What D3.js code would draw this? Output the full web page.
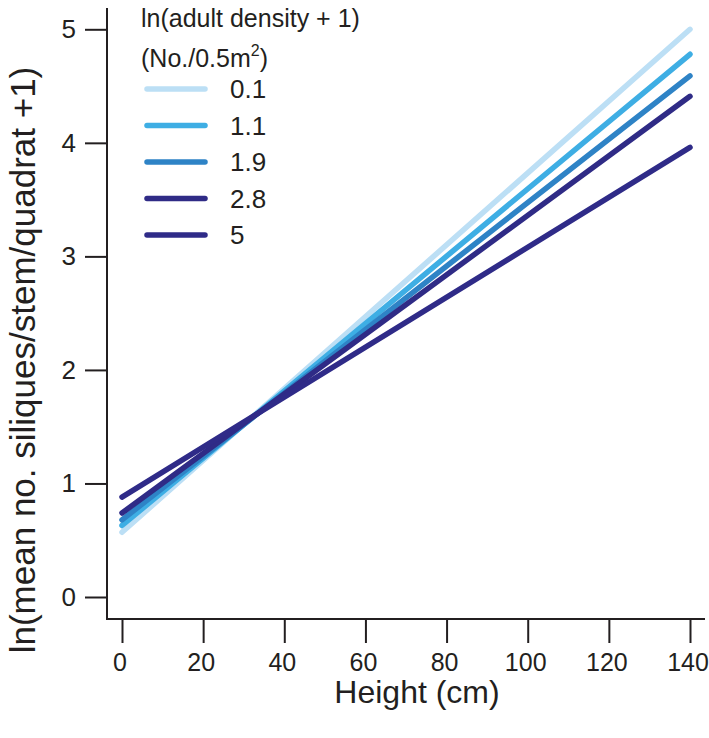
<!DOCTYPE html>
<html>
<head>
<meta charset="utf-8">
<script src="https://cdn.jsdelivr.net/npm/d3@7"></script>
<style>
  html, body { margin: 0; padding: 0; background: #ffffff; }
  svg { display: block; font-family: "Liberation Sans", Arial, Helvetica, sans-serif; }
</style>
</head>
<body>
<script>
// ---- data ----
const densities = ["0.1", "1.1", "1.9", "2.8", "5"];
const heights = [0, 140];
const valueAtHeight0 = [0.57, 0.63, 0.68, 0.74, 0.88];
const valueAtHeight140 = [5.00, 4.78, 4.59, 4.41, 3.96];
const colors = ["#bcdff5", "#3eaee4", "#2e83c6", "#2f2b86", "#2f2b88"];
const xTicks = [0, 20, 40, 60, 80, 100, 120, 140];
const yTicks = [0, 1, 2, 3, 4, 5];
const legendTitle1 = "ln(adult density + 1)";
const xTitle = "Height (cm)";
const yTitle = "ln(mean no. siliques/stem/quadrat +1)";

// ---- layout ----
const W = 709, H = 738;
const axisX = 107, axisY = 619;

const svg = d3.select("body").append("svg").attr("width", W).attr("height", H);

const x = d3.scaleLinear().domain([0, 140]).range([122, 690]);
const y = d3.scaleLinear().domain([0, 5]).range([597, 29.3]);

const ink = "#231f20";

// axis lines
svg.append("line").attr("x1", axisX).attr("x2", axisX).attr("y1", 8).attr("y2", axisY + 1)
  .attr("stroke", ink).attr("stroke-width", 2);
svg.append("line").attr("x1", axisX - 1).attr("x2", 705).attr("y1", axisY).attr("y2", axisY)
  .attr("stroke", ink).attr("stroke-width", 2);

// x axis
const xAxis = svg.append("g").attr("transform", `translate(0,${axisY})`)
  .call(d3.axisBottom(x).tickValues(xTicks).tickFormat(d3.format("d"))
    .tickSize(24).tickSizeOuter(0).tickPadding(10));
xAxis.select(".domain").remove();
xAxis.selectAll(".tick line").attr("stroke", ink).attr("stroke-width", 2);
xAxis.selectAll(".tick text").attr("font-size", 25).attr("fill", ink).attr("dx", -2.5)
  .attr("font-family", "Liberation Sans, Arial, sans-serif");

// y axis
const yAxis = svg.append("g").attr("transform", `translate(${axisX},0)`)
  .call(d3.axisLeft(y).tickValues(yTicks).tickFormat(d3.format("d"))
    .tickSize(22).tickSizeOuter(0).tickPadding(9));
yAxis.select(".domain").remove();
yAxis.selectAll(".tick line").attr("stroke", ink).attr("stroke-width", 2);
yAxis.selectAll(".tick text").attr("font-size", 26).attr("fill", ink)
  .attr("font-family", "Liberation Sans, Arial, sans-serif");

// axis titles
svg.append("text").attr("x", 417).attr("y", 703).attr("text-anchor", "middle")
  .attr("font-size", 32).attr("fill", ink).text(xTitle);
svg.append("text").attr("transform", `translate(35,360) rotate(-90)`).attr("text-anchor", "middle")
  .attr("font-size", 35).attr("fill", ink).text(yTitle);

// lines
const series = densities.map((d, i) => ({
  name: d, color: colors[i],
  pts: [{ h: heights[0], v: valueAtHeight0[i] }, { h: heights[1], v: valueAtHeight140[i] }]
}));
const lineGen = d3.line().x(p => x(p.h)).y(p => y(p.v));
svg.append("g").selectAll("path").data(series).join("path")
  .attr("d", s => lineGen(s.pts))
  .attr("fill", "none").attr("stroke", s => s.color)
  .attr("stroke-width", 5.5).attr("stroke-linecap", "round");

// legend
const lg = svg.append("g");
lg.append("text").attr("x", 141).attr("y", 27).attr("font-size", 25).attr("fill", ink).text(legendTitle1);
const t2 = lg.append("text").attr("x", 141).attr("y", 67).attr("font-size", 25).attr("fill", ink);
t2.append("tspan").text("(No./0.5m");
t2.append("tspan").attr("font-size", 16).attr("dy", -11).text("2");
t2.append("tspan").attr("dy", 11).text(")");

const items = lg.selectAll("g.item").data(series).join("g").attr("class", "item")
  .attr("transform", (d, i) => `translate(0,${89 + i * 36.5})`);
items.append("line").attr("x1", 147).attr("x2", 205).attr("y1", 0).attr("y2", 0)
  .attr("stroke", d => d.color).attr("stroke-width", 5.5).attr("stroke-linecap", "round");
items.append("text").attr("x", 230).attr("y", 0).attr("dy", "0.35em")
  .attr("font-size", 26).attr("fill", ink).text(d => d.name);
</script>
</body>
</html>
